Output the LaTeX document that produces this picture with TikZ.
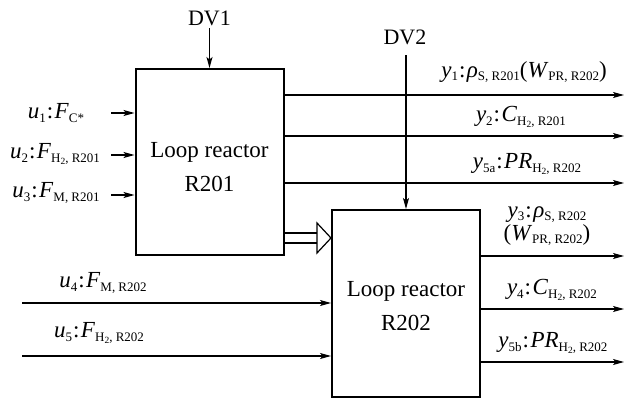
\documentclass[tikz,border=0pt]{standalone}
\usepackage{fontspec}
\setmainfont{Liberation Serif}
\usetikzlibrary{arrows.meta}
\newcommand\sbs[1]{\raisebox{-0.35ex}{\fontsize{13}{14}\selectfont #1}}
\newcommand\sbsb[1]{\raisebox{-0.3ex}{\fontsize{9.5}{10}\selectfont #1}}
\newcommand\cln{\kern1pt:\kern1.5pt}
\begin{document}
\begin{tikzpicture}[x=1pt,y=-1pt,
  box/.style={draw,line width=2pt,minimum width=148pt,minimum height=186pt,inner sep=0pt},
  boxtext/.style={font=\fontsize{23}{34}\selectfont,align=center,inner sep=0pt},
  lbl/.style={font=\fontsize{23}{23}\selectfont,inner sep=0pt,align=center},
  dvl/.style={font=\fontsize{22}{24}\selectfont,inner sep=0pt},
  conn/.style={line width=1.2pt,-{Stealth[length=11pt,width=6pt,inset=2.5pt]}},
  plain/.style={line width=1.2pt}]
\useasboundingbox (0,0) rectangle (625,399);
% boxes
\node[box] (R201) at (209.5,162) {};
\node[box,minimum height=187pt] (R202) at (406,303.5) {};
\node[boxtext] (t201) at (R201.center) [yshift=-5pt] {Loop reactor\\R201};
\node[boxtext] (t202) at (R202.center) [yshift=-3pt] {Loop reactor\\R202};
% disturbances
\node[dvl] (dv1) at (209.5,18) {DV1};
\coordinate (dv1s) at (209.5,28);
\draw[conn] (dv1s) -- (dv1s |- R201.north);
\node[dvl] (dv2) at (405,37) {DV2};
\coordinate (dv2s) at (406,55);
\draw[conn] (dv2s) -- (dv2s |- R202.north);
% inputs to R201
\node[lbl] (u1) at (56,113) {\textit{u}\sbs{1}\cln\textit{F}\sbs{C*}};
\node[lbl] (u2) at (55,154) {\textit{u}\sbs{2}\cln\textit{F}\sbs{H\sbsb{2}, R201}};
\node[lbl] (u3) at (56,193) {\textit{u}\sbs{3}\cln\textit{F}\sbs{M, R201}};
\coordinate (i1) at (111,113);
\coordinate (i2) at (111,155);
\coordinate (i3) at (111,195);
\draw[conn] (i1) -- (i1 -| R201.west);
\draw[conn] (i2) -- (i2 -| R201.west);
\draw[conn] (i3) -- (i3 -| R201.west);
% outputs of R201
\coordinate (o1) at (624,95);
\coordinate (o2) at (624,136);
\coordinate (o3) at (624,183);
\draw[conn] (o1 -| R201.east) -- (o1);
\draw[conn] (o2 -| R201.east) -- (o2);
\draw[conn] (o3 -| R201.east) -- (o3);
\node[lbl] (y1) at (524,72) {\textit{y}\sbs{1}\cln\textit{ρ}\sbs{S, R201}(\textit{W}\sbs{PR, R202})};
\node[lbl] (y2) at (521,117) {\textit{y}\sbs{2}\cln\textit{C}\sbs{H\sbsb{2}, R201}};
\node[lbl] (y5a) at (527,164) {\textit{y}\sbs{5a}\cln\textit{PR}\sbs{H\sbsb{2}, R202}};
% double arrow R201 -> R202
\coordinate (dA) at (317,233);
\coordinate (dB) at (317,243);
\draw[plain] (dA -| R201.east) -- (dA);
\draw[plain] (dB -| R201.east) -- (dB);
\draw[plain,fill=white,line join=miter] (317,223) -- (R202.west |- 0,238) -- (317,253) -- cycle;
% inputs to R202
\coordinate (i4) at (22,303);
\coordinate (i5) at (22,356);
\draw[conn] (i4) -- (i4 -| R202.west);
\draw[conn] (i5) -- (i5 -| R202.west);
\node[lbl] (u4) at (103,283) {\textit{u}\sbs{4}\cln\textit{F}\sbs{M, R202}};
\node[lbl] (u5) at (99,333) {\textit{u}\sbs{5}\cln\textit{F}\sbs{H\sbsb{2}, R202}};
% outputs of R202
\coordinate (o4) at (624,256);
\coordinate (o5) at (624,309);
\coordinate (o6) at (624,362);
\draw[conn] (o4 -| R202.east) -- (o4);
\draw[conn] (o5 -| R202.east) -- (o5);
\draw[conn] (o6 -| R202.east) -- (o6);
\node[lbl] (y3) at (547,226) {\textit{y}\sbs{3}\cln\textit{ρ}\sbs{S, R202}\\(\textit{W}\sbs{PR, R202})};
\node[lbl] (y4) at (552,290) {\textit{y}\sbs{4}\cln\textit{C}\sbs{H\sbsb{2}, R202}};
\node[lbl] (y5b) at (553,343) {\textit{y}\sbs{5b}\cln\textit{PR}\sbs{H\sbsb{2}, R202}};
\end{tikzpicture}
\end{document}
